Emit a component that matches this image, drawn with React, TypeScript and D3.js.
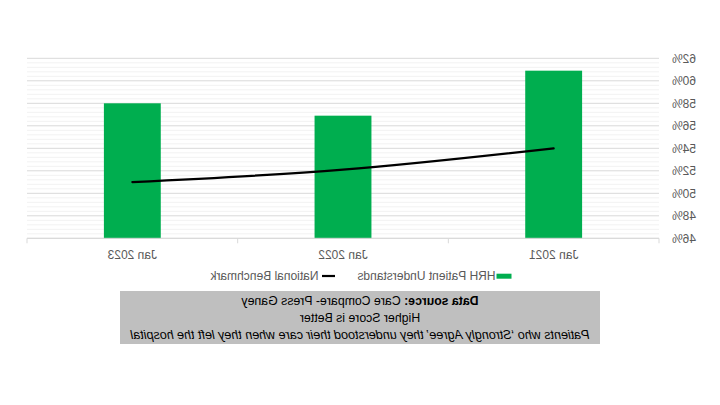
import React from "react";
import * as d3 from "d3";

const categories = ["Jan 2021", "Jan 2022", "Jan 2023"];
const hrhValues = [60.9, 56.9, 58.0];
const benchmarkValues = [54.0, 52.1, 51.0];
const yTicks = [46, 48, 50, 52, 54, 56, 58, 60, 62];
const seriesNames = ["HRH Patient Understands", "National Benchmark"];
const noteLines = [
  "Care Compare- Press Ganey",
  "Higher Score is Better",
  "Patients who \u2018Strongly Agree\u2019 they understood their care when they left the hospital",
];

const W = 720;
const H = 405;
const M = { left: 61, right: 27, top: 58.3, bottom: 166.7 };
const FONT = "'Liberation Sans', Arial, sans-serif";
const GREEN = "#00AE4F";

export default function App() {
  const x = d3
    .scaleBand<string>()
    .domain(categories)
    .range([M.left, W - M.right])
    .padding(0);
  const y = d3.scaleLinear().domain([46, 62]).range([H - M.bottom, M.top]);
  const minorTicks = d3.range(46, 62.001, 0.4).filter(
    (v) => Math.abs(v / 2 - Math.round(v / 2)) > 1e-6
  );
  const barW = x.bandwidth() * 0.27;
  const line = d3
    .line<number>()
    .x((_, i) => (x(categories[i]) as number) + x.bandwidth() / 2)
    .y((d) => y(d))
    .curve(d3.curveCatmullRom.alpha(0.5));
  const y0 = y(46);
  const boundaries = [...categories.map((c) => x(c) as number), W - M.right];

  return (
    <svg
      width={W}
      height={H}
      style={{ position: "absolute", left: 0, top: 0, background: "#fff" }}
      fontFamily={FONT}
    >
      <g transform={`translate(${W},0) scale(-1,1)`}>
        {minorTicks.map((t) => (
          <line
            key={"m" + t}
            x1={M.left}
            x2={W - M.right}
            y1={y(t)}
            y2={y(t)}
            stroke="#F2F2F2"
            strokeWidth={1}
          />
        ))}
        {yTicks.map((t) => (
          <line
            key={"g" + t}
            x1={M.left}
            x2={W - M.right}
            y1={y(t)}
            y2={y(t)}
            stroke="#D9D9D9"
            strokeWidth={1}
          />
        ))}
        {yTicks.map((t) => (
          <text
            key={"t" + t}
            x={48}
            y={y(t)}
            dy="0.35em"
            textAnchor="end"
            fontSize={12}
            fill="#595959"
          >
            {t}%
          </text>
        ))}
        {categories.map((c, i) => (
          <rect
            key={"b" + c}
            x={(x(c) as number) + x.bandwidth() / 2 - barW / 2}
            y={y(hrhValues[i])}
            width={barW}
            height={y0 - y(hrhValues[i])}
            fill={GREEN}
          />
        ))}
        <line x1={M.left} x2={W - M.right} y1={y0} y2={y0} stroke="#D9D9D9" />
        {boundaries.map((b, i) => (
          <line key={"k" + i} x1={b} x2={b} y1={y0} y2={y0 + 5} stroke="#D9D9D9" />
        ))}
        <path
          d={line(benchmarkValues) as string}
          fill="none"
          stroke="#000"
          strokeWidth={2.2}
          strokeLinecap="round"
        />
        {categories.map((c) => (
          <text
            key={"c" + c}
            x={(x(c) as number) + x.bandwidth() / 2}
            y={255}
            dy="0.35em"
            textAnchor="middle"
            fontSize={12}
            fill="#595959"
          >
            {c}
          </text>
        ))}
        {/* legend */}
        <rect x={208.5} y={273.7} width={15} height={5} fill={GREEN} />
        <text x={224.5} y={276} dy="0.35em" fontSize={12} fill="#595959">
          {seriesNames[0]}
        </text>
        <line x1={385} x2={398} y1={276} y2={276} stroke="#000" strokeWidth={2.2} />
        <text x={401.5} y={276} dy="0.35em" fontSize={12} fill="#595959">
          {seriesNames[1]}
        </text>
        {/* note box */}
        <rect x={120} y={291} width={480} height={53} fill="#BFBFBF" />
        <text x={360} y={305} textAnchor="middle" fontSize={12.3} fill="#000">
          <tspan fontWeight="bold">Data source:</tspan>
          <tspan> {noteLines[0]}</tspan>
        </text>
        <text x={360} y={321.5} textAnchor="middle" fontSize={12.3} fill="#000">
          {noteLines[1]}
        </text>
        <text
          x={360}
          y={338.5}
          textAnchor="middle"
          fontSize={12.5}
          fontStyle="italic"
          fill="#000"
        >
          {noteLines[2]}
        </text>
      </g>
    </svg>
  );
}
